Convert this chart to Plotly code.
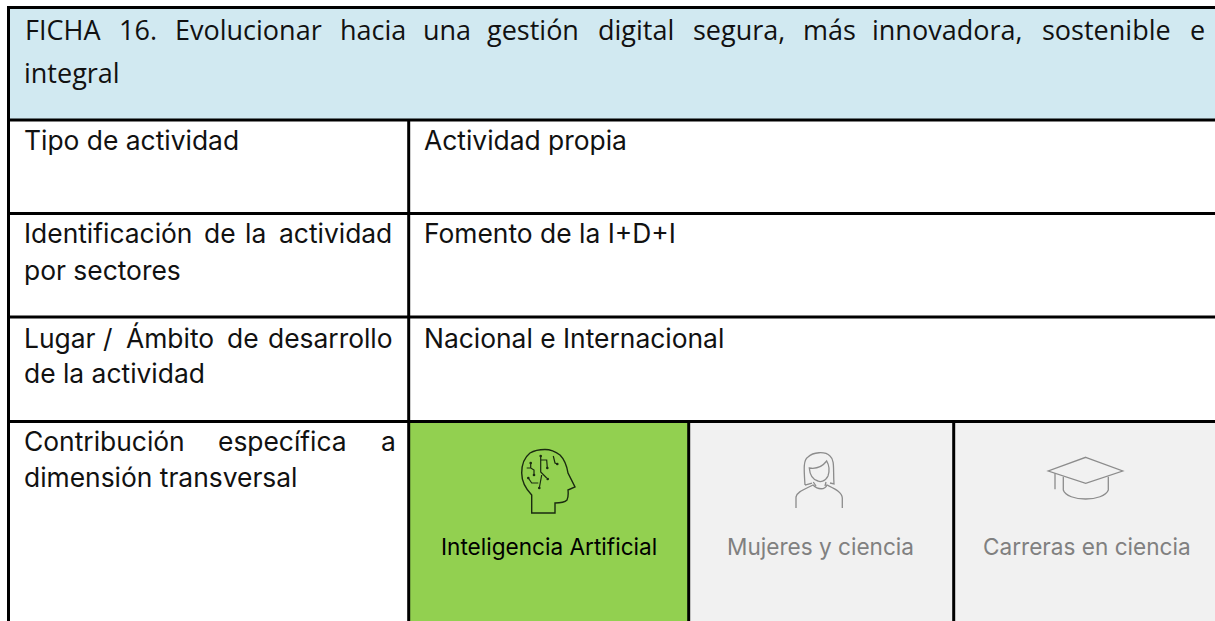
import plotly.graph_objects as go

W, H = 1215, 621
BLACK = "#000000"
HEADER_BG = "#D1E9F1"
GREEN = "#92D050"
GREY_BG = "#F1F1F1"
GREY_TEXT = "#808080"
HEAD_FONT = "Open Sans"
BODY_FONT = "Inter"
HEAD_SIZE = 27
BODY_SIZE = 26.4
CARD_SIZE = 22.6

# (text, left x, centre y)
header_words = [("FICHA", 25, 29), ("16.", 119, 29), ("Evolucionar", 175, 29), ("hacia", 340, 29),
                ("una", 423, 29), ("gestión", 487, 29), ("digital", 598, 29), ("segura,", 693, 29),
                ("más", 803, 29), ("innovadora,", 872, 29), ("sostenible", 1042, 29), ("e", 1190, 29),
                ("integral", 24, 72)]
labels = [("Tipo de actividad", 24, 140),
          ("Identificación", 24, 233), ("de", 204, 233), ("la", 245, 233), ("actividad", 279, 233), ("por sectores", 24, 270),
          ("Lugar", 24, 338), ("/", 103, 338), ("Ámbito", 126, 338), ("de", 227, 338), ("desarrollo", 268, 338), ("de la actividad", 24, 373),
          ("Contribución", 24, 441), ("específica", 218, 441), ("a", 381, 441), ("dimensión transversal", 24, 477),
          ("Actividad propia", 424, 140), ("Fomento de la I+D+I", 424, 233), ("Nacional e Internacional", 424, 338)]
cards = [("Inteligencia Artificial", 548.5, 546, BLACK), ("Mujeres y ciencia", 820, 546, GREY_TEXT), ("Carreras en ciencia", 1086.5, 546, GREY_TEXT)]

fills = [(9, 8, 1215, 120, HEADER_BG), (410, 422, 688, 621, GREEN), (689, 422, 953, 621, GREY_BG), (954, 422, 1215, 621, GREY_BG)]
h_lines = [(7, 1215, 7.5), (7, 1215, 120), (7, 1215, 213.5), (7, 1215, 317), (7, 1215, 421.5)]
v_lines = [(8.5, 6, 621), (408.7, 120, 621), (688.7, 421, 621), (953.7, 421, 621)]

brain = ("M531.7,513 L531.7,495 C525,488 521.7,480 521.7,473 C521.7,464 525,457 530,453 C535,450 540,449.5 545,449.5 "
         "C551,449.5 556,452 560,455 C565,460 567,467 568,473 L575,487 L568,490 C568.5,495 568,498 567,500 "
         "C564,503 559,503 555,503 L555,513 Z")
circuits = ["M540.7,456 L540.7,472 L546.7,478 M540.7,460 L546.7,460 L547.3,468 M541.7,475 L539.3,488",
            "M528.3,478 L531.7,483 L538.3,483 M530.7,463 L530.7,468 L534,470 L534,475 M526.7,468 L530.7,468",
            "M553.3,456 L555,463 L557.3,464"]
nodes = [(540.7, 456), (547.3, 468), (547.7, 479), (539.3, 488), (528.3, 478), (530.7, 463), (534, 475), (557.3, 464)]
woman = ["M796,508 L796,497 C797,492 803,490 813,485 C818,490 825,490 827,485 C835,489 842,492 842.3,498 L842.3,508",
         "M805,485 C804,470 803,460 808,457 C813,452 825,451 830,456 C835,460 833,470 834,484 L830,483 M805,485 L812,483",
         "M809.3,468 C815,469 822,467 826.7,461 C829,465 830,470 828,476 C825,482 820,482 818,481 C814,480 810,477 809.3,468 Z",
         "M813.3,482 L816,486 M826,482 L825,486"]
cap = ["M1085.7,457.3 L1122.7,471 L1085.7,483.3 L1048.3,471 Z", "M1055,473.3 L1055,489.3",
       "M1063.3,476.7 L1063.3,490 C1067,502 1104,502 1108.3,490 L1108.3,476.7"]

shapes = []
for x0, y0, x1, y1, c in fills:
    shapes.append(dict(type="rect", x0=x0, y0=y0, x1=x1, y1=y1, fillcolor=c, line_width=0, layer="below"))
for x0, x1, y in h_lines:
    shapes.append(dict(type="line", x0=x0, x1=x1, y0=y, y1=y, line=dict(color=BLACK, width=3)))
for x, y0, y1 in v_lines:
    shapes.append(dict(type="line", x0=x, x1=x, y0=y0, y1=y1, line=dict(color=BLACK, width=3)))
shapes.append(dict(type="path", path=brain, line=dict(color="#1a2a10", width=1.4)))
for p in circuits:
    shapes.append(dict(type="path", path=p, line=dict(color="#1a2a10", width=1.2)))
for x, y in nodes:
    shapes.append(dict(type="circle", x0=x - 1.3, x1=x + 1.3, y0=y - 1.3, y1=y + 1.3, fillcolor="#1a2a10", line_width=0))
for p in woman + cap:
    shapes.append(dict(type="path", path=p, line=dict(color="#8c8c8c", width=1.3)))

ann = []
for t, x, y in header_words:
    ann.append(dict(text=t, x=x - 2, y=y, xref="x", yref="y", xanchor="left", yanchor="middle", showarrow=False,
                    font=dict(family=HEAD_FONT, size=HEAD_SIZE, color="#111111")))
for t, x, y in labels:
    ann.append(dict(text=t, x=x - 2, y=y, xref="x", yref="y", xanchor="left", yanchor="middle", showarrow=False,
                    font=dict(family=BODY_FONT, size=BODY_SIZE, color="#111111")))
for t, x, y, c in cards:
    ann.append(dict(text=t, x=x, y=y, xref="x", yref="y", xanchor="center", yanchor="middle", showarrow=False,
                    font=dict(family=BODY_FONT, size=CARD_SIZE, color=c)))

fig = go.Figure()
fig.update_layout(width=W, height=H, margin=dict(l=0, r=0, t=0, b=0), paper_bgcolor="white", plot_bgcolor="white",
                  showlegend=False, shapes=shapes, annotations=ann,
                  xaxis=dict(range=[0, W], visible=False, fixedrange=True),
                  yaxis=dict(range=[H, 0], visible=False, fixedrange=True))
fig.write_html("out.html", config=dict(displayModeBar=False),
               post_script="document.body.style.margin='0';document.body.style.overflow='hidden';")
